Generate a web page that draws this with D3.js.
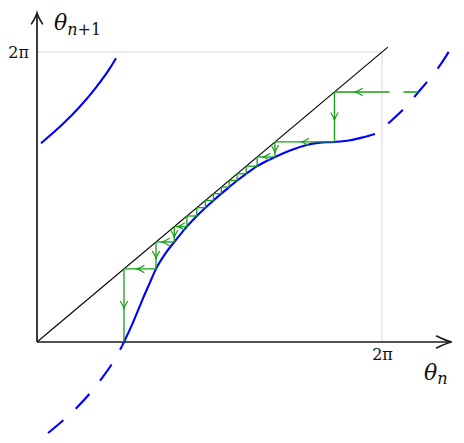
<!DOCTYPE html>
<html><head><meta charset="utf-8">
<script src="https://cdn.jsdelivr.net/npm/d3@7"></script>
<style>body{margin:0;background:#fff}svg{display:block}</style>
</head><body>
<script>
const TWO_PI = 2 * Math.PI;
// map curve f(theta) (radians)
const mainCurve = [[1.55,-0.085],[1.584,0],[1.725,0.36],[1.845,0.70],[1.936,0.96],[2.05,1.27],[2.167,1.584],[2.33,1.905],[2.5,2.167],[2.73,2.5],[2.91,2.73],[3.067,2.91],[3.214,3.067],[3.357,3.214],[3.50,3.357],[3.645,3.50],[3.81,3.645],[4.009,3.81],[4.334,4.009],[4.608,4.15],[4.912,4.27],[5.123,4.315],[5.417,4.334],[5.70,4.37],[5.942,4.436],[6.156,4.507]];
const lowerDashed = [[0.200,-1.972],[0.473,-1.699],[0.728,-1.418],[0.965,-1.110],[1.166,-0.809],[1.384,-0.440]];
const upperLeft = [[0.073,4.306],[0.479,4.732],[0.783,5.103],[1.087,5.535],[1.329,5.934],[1.439,6.149]];
const rightDashed = [[6.447,4.789],[6.720,5.100],[6.947,5.417],[7.175,5.740],[7.357,6.024],[7.540,6.370]];
// cobweb iterates theta_0, theta_1, ... (last value is f of the last iterate)
const iterates = [6.947,5.417,4.334,4.009,3.81,3.645,3.50,3.357,3.214,3.067,2.91,2.73,2.5,2.167,1.584,0];
const xTicks = [TWO_PI], yTicks = [TWO_PI];
const xAxisEnd = 7.55, yAxisEnd = 7.13, diagEnd = 6.39;

const W = 464, H = 443;
const svg = d3.select("body").append("svg").attr("width", W).attr("height", H);
const x = d3.scaleLinear().domain([0, TWO_PI]).range([37, 382]);
const y = d3.scaleLinear().domain([0, TWO_PI]).range([342, 52]);

// grid
svg.append("line").attr("x1", x(0)).attr("x2", x(TWO_PI)).attr("y1", y(TWO_PI)).attr("y2", y(TWO_PI))
  .attr("stroke", "#d8d8d8").attr("stroke-width", 1);
svg.append("line").attr("x1", x(TWO_PI)).attr("x2", x(TWO_PI)).attr("y1", y(0)).attr("y2", y(TWO_PI))
  .attr("stroke", "#d8d8d8").attr("stroke-width", 1);

// tick labels via d3 axes
const fontFam = "'DejaVu Serif','Liberation Serif',serif";
svg.append("g").attr("transform", `translate(0,${y(0)})`)
  .call(d3.axisBottom(x).tickValues(xTicks).tickFormat(() => "2π").tickSize(0).tickPadding(7))
  .call(g => g.select(".domain").remove())
  .call(g => g.selectAll("text").attr("font-family", fontFam).attr("font-size", 16).attr("fill", "#111"));
svg.append("g").attr("transform", `translate(${x(0)},0)`)
  .call(d3.axisLeft(y).tickValues(yTicks).tickFormat(() => "2π").tickSize(0).tickPadding(8))
  .call(g => g.select(".domain").remove())
  .call(g => g.selectAll("text").attr("font-family", fontFam).attr("font-size", 16).attr("fill", "#111"));

function arrowHead(g, tx, ty, angleDeg, len, half, color, sw) {
  g.append("path")
    .attr("d", `M${-len},${-half} Q${-len*0.35},${-half*0.2} 0,0 Q${-len*0.35},${half*0.2} ${-len},${half}`)
    .attr("transform", `translate(${tx},${ty}) rotate(${angleDeg})`)
    .attr("fill", "none").attr("stroke", color).attr("stroke-width", sw).attr("stroke-linecap", "round");
}

// diagonal
svg.append("line").attr("x1", x(0)).attr("y1", y(0)).attr("x2", x(diagEnd)).attr("y2", y(diagEnd))
  .attr("stroke", "#000").attr("stroke-width", 1.1);

// axes with arrows
const axisColor = "#1a1a1a";
svg.append("line").attr("x1", x(0)).attr("y1", y(0)).attr("x2", x(xAxisEnd)).attr("y2", y(0))
  .attr("stroke", axisColor).attr("stroke-width", 1.7);
svg.append("line").attr("x1", x(0)).attr("y1", y(0)).attr("x2", x(0)).attr("y2", y(yAxisEnd))
  .attr("stroke", axisColor).attr("stroke-width", 1.7);
arrowHead(svg, x(xAxisEnd), y(0), 0, 15, 6, axisColor, 1.6);
arrowHead(svg, x(0), y(yAxisEnd), -90, 11, 5.5, axisColor, 1.6);

// curves
const line = d3.line().x(d => x(d[0])).y(d => y(d[1])).curve(d3.curveMonotoneX);
const blue = "#0000ff";
svg.append("path").datum(mainCurve).attr("d", line).attr("fill", "none").attr("stroke", blue).attr("stroke-width", 2.1);
svg.append("path").datum(upperLeft).attr("d", line).attr("fill", "none").attr("stroke", blue).attr("stroke-width", 2.1);
svg.append("path").datum(lowerDashed.concat([mainCurve[0]])).attr("d", line).attr("fill", "none")
  .attr("stroke", blue).attr("stroke-width", 2.1).attr("stroke-dasharray", "20,17");
svg.append("path").datum([mainCurve[mainCurve.length-1]].concat(rightDashed)).attr("d", line).attr("fill", "none")
  .attr("stroke", blue).attr("stroke-width", 2.1).attr("stroke-dasharray", "20,17").attr("stroke-dashoffset", 20);

// cobweb
const green = "#14a014";
const cg = svg.append("g");
function seg(x1, y1, x2, y2) {
  cg.append("line").attr("x1", x1).attr("y1", y1).attr("x2", x2).attr("y2", y2)
    .attr("stroke", green).attr("stroke-width", 1.3);
  const L = Math.hypot(x2 - x1, y2 - y1);
  if (L > 12) {
    const ang = Math.atan2(y2 - y1, x2 - x1);
    const mx = (x1 + x2) / 2 + Math.cos(ang) * 3, my = (y1 + y2) / 2 + Math.sin(ang) * 3;
    arrowHead(cg, mx, my, ang * 180 / Math.PI, 7, 3.5, green, 1.2);
  }
}
for (let k = 0; k < iterates.length - 1; k++) {
  const tk = iterates[k], tn = iterates[k + 1];
  if (k > 0) seg(x(tk), y(tk), x(tk), y(tn)); // vertical: diagonal -> curve
  if (k < iterates.length - 2) {
    if (tk > TWO_PI) {
      cg.append("line").attr("x1", x(tk)).attr("y1", y(tn)).attr("x2", x(TWO_PI)).attr("y2", y(tn))
        .attr("stroke", green).attr("stroke-width", 1.3).attr("stroke-dasharray", "15,14");
      seg(x(TWO_PI), y(tn), x(tn), y(tn));
    } else {
      seg(x(tk), y(tn), x(tn), y(tn));
    }
  }
}

// axis titles
const t1 = svg.append("text").attr("x", 54).attr("y", 30).attr("font-family", fontFam)
  .attr("font-size", 22).attr("fill", "#111");
t1.append("tspan").attr("font-style", "italic").text("θ");
t1.append("tspan").attr("font-size", 16).attr("dy", 5).attr("font-style", "italic").text("n");
t1.append("tspan").attr("font-size", 16).text("+1");
const t2 = svg.append("text").attr("x", 424).attr("y", 380).attr("font-family", fontFam)
  .attr("font-size", 22).attr("fill", "#111");
t2.append("tspan").attr("font-style", "italic").text("θ");
t2.append("tspan").attr("font-size", 16).attr("dy", 4).attr("font-style", "italic").text("n");
</script>
</body></html>
